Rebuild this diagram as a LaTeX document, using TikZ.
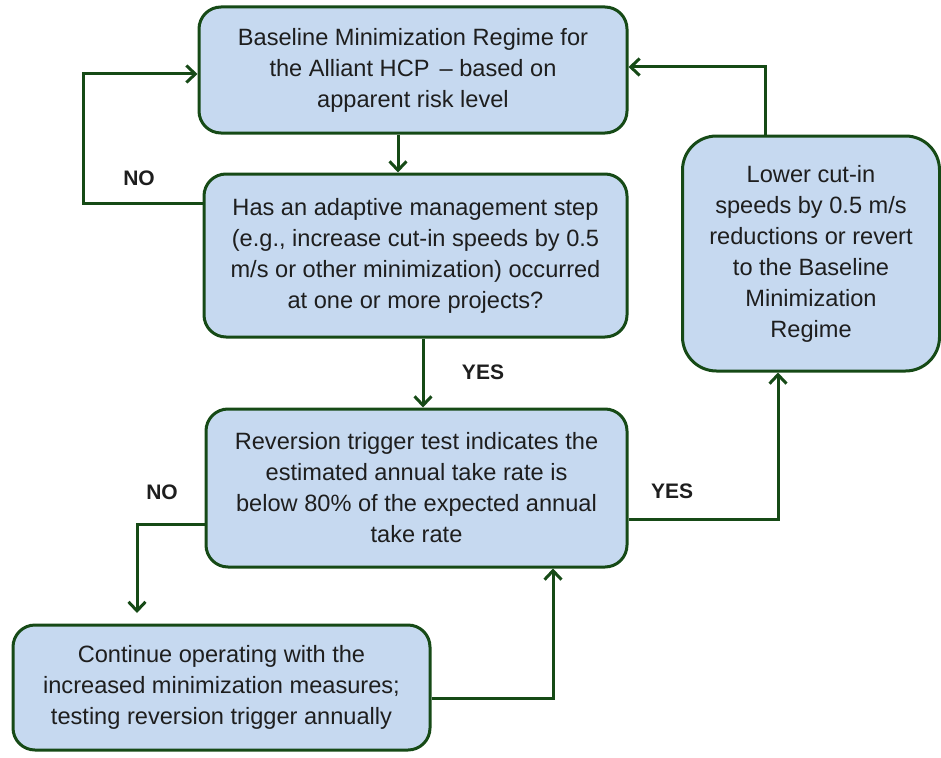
\documentclass[tikz,border=0pt]{standalone}
\usepackage{fontspec}
\setmainfont{Liberation Sans}
\usetikzlibrary{arrows.meta}
\definecolor{boxfill}{RGB}{198,217,240}
\definecolor{edge}{RGB}{22,74,22}
\definecolor{txt}{RGB}{30,30,30}
\begin{document}
\begin{tikzpicture}[x=1pt,y=-1pt,
  box/.style={draw=edge,fill=boxfill,line width=3pt,rounded corners=22pt,align=center,
    text=txt,font=\fontsize{23.6}{31}\selectfont,inner sep=0pt},
  arr/.style={draw=edge,line width=3pt,-{Straight Barb[length=9pt,width=17pt,line width=3pt]}},
  lbl/.style={text=txt,font=\fontsize{21}{25}\selectfont\bfseries,inner sep=0pt}]
\useasboundingbox (0,0) rectangle (941,757);
\node[box,minimum width=428pt,minimum height=126pt] (b1) at (413,70)
  {Baseline Minimization Regime for\\the Alliant HCP\hspace{0.15em} -- based on\\apparent risk level};
\node[box,minimum width=423pt,minimum height=163pt] (b2) at (415.5,255.5)
  {Has an adaptive management step\\(e.g., increase cut-in speeds by 0.5\\m/s or other minimization) occurred\\at one or more projects?};
\node[box,minimum width=421pt,minimum height=158pt] (b3) at (416.5,488)
  {Reversion trigger test indicates the\\estimated annual take rate is\\below 80\% of the expected annual\\take rate};
\node[box,minimum width=417pt,minimum height=125pt] (b4) at (221.5,687.5)
  {Continue operating with the\\increased minimization measures;\\testing reversion trigger annually};
\node[box,rounded corners=34pt,minimum width=257pt,minimum height=235pt] (b5) at (811,253.5)
  {Lower cut-in\\speeds by 0.5 m/s\\reductions or revert\\to the Baseline\\Minimization\\Regime};
\coordinate (p1) at (83,203);
\coordinate (p2) at (83,74);
\coordinate (p0) at (398,0);
\coordinate (p3) at (423,0);
\coordinate (p4) at (778,519);
\coordinate (p5) at (765,67);
\coordinate (p6) at (137,524);
\coordinate (p7) at (137,613);
\coordinate (p8) at (553,698);
\draw[arr] (b1.south -| p0) -- (b2.north -| p0);
\draw[arr] (b2.west |- p1) -- (p1) -- (p2) -- (b1.west |- p2);
\draw[arr] (b2.south -| p3) -- (b3.north -| p3);
\draw[arr] (b3.east |- p4) -- (p4) -- (b5.south -| p4);
\draw[arr] (b5.north -| p5) -- (p5) -- (b1.east |- p5);
\draw[arr] (b3.west |- p6) -- (p6) -- (p7);
\draw[arr] (b4.east |- p8) -- (p8) -- (b3.south -| p8);
\node[lbl] (l1) at (139,178) {NO};
\node[lbl] (l2) at (483,372) {YES};
\node[lbl] (l3) at (162,492) {NO};
\node[lbl] (l4) at (672,491) {YES};
\end{tikzpicture}
\end{document}
